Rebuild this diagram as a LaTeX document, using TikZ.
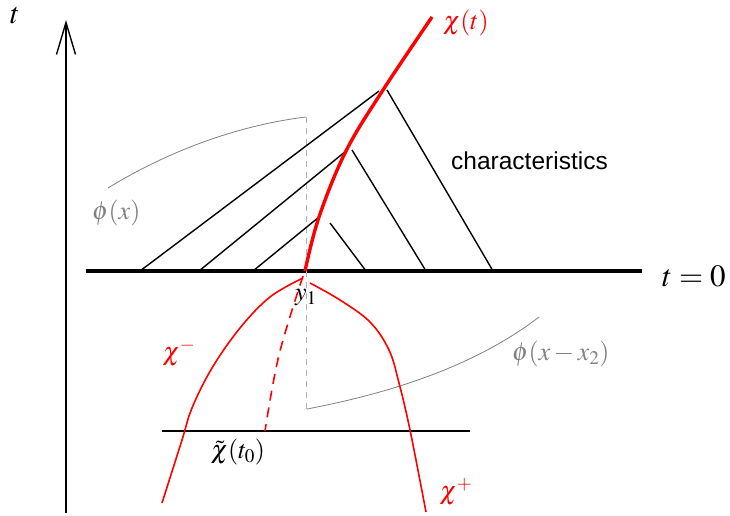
\documentclass[tikz,border=0pt]{standalone}
\usepackage{mathptmx}
\usepackage[no-math]{fontspec}
\setmainfont{Liberation Serif}
\setsansfont{Liberation Sans}
\usetikzlibrary{arrows.meta}
\tikzset{
  charline/.style={line width=1.4pt,black},
  redthin/.style={line width=1.6pt,red},
  redthick/.style={line width=3.4pt,red},
  grayline/.style={line width=0.8pt,gray},
  graydash/.style={line width=0.9pt,gray!60,dash pattern=on 6pt off 5pt},
  lbl/.style={inner sep=0pt,font=\fontsize{26}{30}\selectfont},
}
\begin{document}
\begin{tikzpicture}[x=1pt,y=-1pt]
\useasboundingbox (0,0) rectangle (730,516);
% axis
\coordinate (ab) at (66,513);
\coordinate (at) at (66,20);
\draw[line width=1.4pt,-{Straight Barb[length=32pt,width=19pt,line width=1.4pt]}] (ab) -- (at);
\node[lbl,font=\fontsize{30}{34}\selectfont] (tlab) at (15,16) {$t$};
% baseline
\coordinate (b0) at (86,271);
\coordinate (b1) at (642,271);
\draw[line width=3.6pt] (b0) -- (b1);
\node[lbl,anchor=west,font=\fontsize{31}{34}\selectfont] (t0) at (662,276) {$t=0$};
% gray dashed vertical
\coordinate (dv0) at (306,117);
\coordinate (dv1) at (306,409);
\draw[graydash] (dv0) -- (dv1);
% characteristic lines
\coordinate (l1a) at (140,271); \coordinate (l1b) at (379,91);
\coordinate (l2a) at (199,271); \coordinate (l2b) at (346,151);
\coordinate (l3a) at (253,271); \coordinate (l3b) at (319,217);
\coordinate (r1a) at (387,90);  \coordinate (r1b) at (493,271);
\coordinate (r2a) at (352,150); \coordinate (r2b) at (426,271);
\coordinate (r3a) at (330,223); \coordinate (r3b) at (366,271);
\draw[charline] (l1a) -- (l1b);
\draw[charline] (l2a) -- (l2b);
\draw[charline] (l3a) -- (l3b);
\draw[charline] (r1a) -- (r1b);
\draw[charline] (r2a) -- (r2b);
\draw[charline] (r3a) -- (r3b);
\node[lbl,font=\sffamily\fontsize{24.5}{28}\selectfont,anchor=west] (chars) at (451,161) {characteristics};
% phi(x)
\coordinate (p0) at (108,188);
\coordinate (p1) at (306,117);
\draw[grayline] (p0) .. controls (170,150) and (240,125) .. (p1);
\node[lbl,text=gray,anchor=west] (phix) at (92,213) {$\phi(x)$};
% phi(x-x2)
\coordinate (q0) at (307,409);
\coordinate (q1) at (539,317);
\draw[grayline] (q0) .. controls (380,395) and (470,370) .. (q1);
\node[lbl,text=gray,anchor=west] (phix2) at (512,354) {$\phi(x-x_2)$};
% horizontal line
\coordinate (h0) at (162,431);
\coordinate (h1) at (470,431);
\draw[line width=1.4pt] (h0) -- (h1);
% red chi(t)
\coordinate (y1) at (305,271);
\draw[redthick,line join=round] plot[smooth,tension=0.6] coordinates {(305,271) (319,217) (346,151) (383,90) (432,17)};
\node[lbl,text=red,anchor=west] (chit) at (443,23) {$\chi(t)$};
% chi minus
\draw[redthin] plot[smooth,tension=0.6] coordinates {(303,278) (270,297) (240,328) (212,368) (192,408) (182,440) (162,503)};
\node[lbl,text=red] (chim) at (179,353) {$\chi^{-}$};
% chi plus
\draw[redthin] plot[smooth,tension=0.6] coordinates {(310,283) (340,300) (370,322) (389,350) (399,383) (410,430) (426,512)};
\node[lbl,text=red] (chip) at (456,492) {$\chi^{+}$};
% dashed red
\draw[redthin,dash pattern=on 10pt off 7pt] plot[smooth,tension=0.6] coordinates {(303,276) (279,355) (265,431)};
% labels
\node[lbl] (y1lab) at (306,298) {$y_1$};
\node[lbl] (chit0) at (238,452) {$\tilde\chi(t_0)$};
\end{tikzpicture}
\end{document}
